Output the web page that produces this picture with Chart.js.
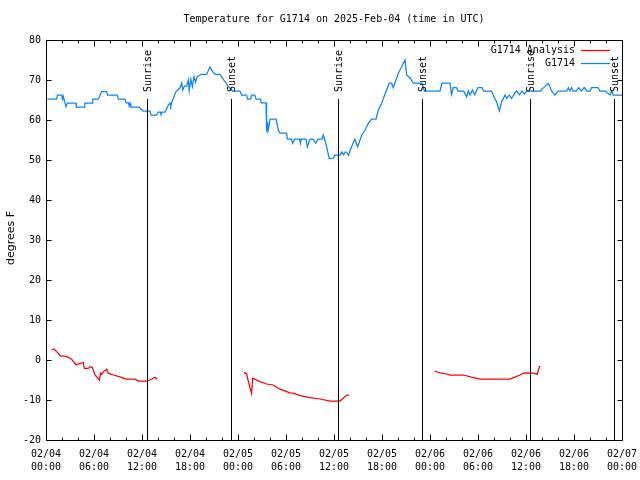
<!DOCTYPE html>
<html><head><meta charset="utf-8">
<script src="https://cdn.jsdelivr.net/npm/chart.js@4/dist/chart.umd.min.js"></script>
<style>html,body{margin:0;padding:0;background:#fff}canvas{display:block}</style>
</head><body>
<canvas id="c" width="640" height="480"></canvas>
<script>
// ---- data (hours since 02/04 00:00 UTC, degrees F) ----
const chartTitle = "Temperature for G1714 on 2025-Feb-04 (time in UTC)";
const yAxisTitle = "degrees F";
const seriesNames = ["G1714 Analysis", "G1714"];

const blueHours = [0.17,1.33,1.42,1.96,2.05,2.15,2.5,2.67,3.75,3.8,4.79,4.85,5.79,5.85,6.54,6.96,7.58,7.71,8.92,9.04,9.88,10.0,10.3,10.4,10.5,10.6,11.67,11.8,12.17,13.0,13.13,13.83,14.04,14.3,14.38,14.5,14.88,15.29,15.5,15.6,15.7,16.25,16.5,16.75,16.96,17.1,17.3,17.58,17.8,17.9,18.1,18.3,18.5,18.7,18.9,19.38,20.08,20.5,20.83,21.13,21.75,22.25,22.5,22.8,23.33,24.25,24.46,25.08,25.17,25.58,25.7,26.1,26.25,26.83,26.9,27.5,27.58,27.7,27.75,27.9,28.0,28.75,29.04,29.25,30.08,30.17,30.7,30.83,31.1,31.7,31.8,31.9,32.5,32.67,33.0,33.4,33.7,34.0,34.5,34.67,34.96,35.17,35.4,35.9,36.1,36.75,36.96,37.2,37.4,37.58,37.8,38.2,38.6,38.96,39.46,39.88,40.3,40.7,41.25,41.54,41.96,42.25,42.58,42.9,43.2,43.4,43.6,44.04,44.46,44.88,45.08,45.5,45.9,47.0,47.3,49.25,49.5,50.5,50.7,50.9,51.3,51.5,52.2,52.58,52.8,53.0,53.3,53.6,54.0,54.5,54.7,55.7,55.9,56.3,56.67,56.96,57.4,57.6,57.9,58.2,58.6,58.8,59.2,59.5,59.8,60.1,61.75,62.2,62.8,63.2,63.6,64.0,65.1,65.3,65.5,65.7,65.9,66.3,66.6,66.9,67.3,67.6,68.0,68.2,69.0,69.25,69.9,70.5,70.7,70.9,72.0];
const blueTemps = [65.2,65.2,66.2,66.2,65.2,66.0,63.3,64.2,64.2,63.2,63.2,64.2,64.2,65.2,65.2,67.1,67.1,66.2,66.2,65.2,65.2,64.3,64.3,63.5,64.2,63.2,63.2,62.8,62.25,62.25,61.2,61.2,62.0,62.0,61.3,62.0,62.0,63.7,64.2,63.5,64.3,67.1,67.5,68.1,69.2,67.5,68.5,68.5,70.0,67.3,70.2,68.3,70.8,69.5,70.8,71.4,71.4,73.3,72.1,71.4,71.4,69.9,69.3,68.3,67.25,67.25,66.25,66.25,65.2,65.2,66.2,66.2,65.2,65.2,64.3,64.3,57.1,59.5,57.3,58.8,60.2,60.2,57.5,56.7,56.7,55.2,55.2,54.2,55.2,55.2,54.2,55.2,55.2,53.3,55.2,55.2,54.2,55.2,55.2,56.25,54.2,52.5,50.4,50.4,51.25,51.25,52.0,51.3,52.0,52.0,51.2,53.3,55.2,53.3,56.2,57.5,59.2,60.2,60.2,62.5,64.2,65.8,67.5,69.2,69.2,68.1,69.2,71.7,73.3,75.0,71.25,70.5,69.2,69.2,67.25,67.25,69.2,69.2,66.4,68.1,68.1,67.25,67.25,65.8,67.25,66.25,67.5,66.3,68.1,68.1,67.25,67.25,66.25,64.6,62.25,64.6,66.25,65.4,66.25,65.4,66.7,67.25,66.3,67.25,66.5,67.25,67.25,68.1,69.2,67.25,66.25,67.25,67.25,68.1,67.25,68.1,67.25,67.25,68.1,67.25,68.1,67.25,67.25,68.1,68.1,67.25,67.25,66.25,67.25,66.25,66.25];

const redHours = [0.71,1.0,1.33,1.83,2.4,2.79,3.21,3.75,4.25,4.67,4.79,5.3,5.5,5.79,6.13,6.67,6.83,6.96,7.17,7.58,7.79,8.42,9.25,10.0,11.13,11.54,12.58,13.0,13.63,13.9,
  19.0,
  24.75,25.08,25.3,25.58,25.7,25.83,26.1,26.75,27.58,28.4,29.25,30.5,30.9,31.75,33.0,34.25,35.5,36.75,37.6,37.9,
  43.0,
  48.6,49.25,50.1,50.5,52.2,53.2,54.25,58.0,58.6,59.25,59.67,60.1,60.9,61.4,61.67,61.8];
const redTemps = [2.5,2.75,2.1,1.0,1.0,0.67,0.17,-1.25,-0.83,-0.67,-2.1,-2.1,-1.67,-1.83,-3.75,-5.0,-3.3,-3.6,-2.9,-2.3,-3.3,-3.75,-4.2,-4.8,-4.8,-5.25,-5.25,-5.0,-4.3,-4.8,
  null,
  -3.1,-3.5,-5.4,-7.5,-8.3,-4.6,-4.8,-5.4,-6.0,-6.25,-7.3,-8.2,-8.3,-8.9,-9.4,-9.75,-10.25,-10.25,-8.75,-8.75,
  null,
  -2.75,-3.2,-3.5,-3.75,-3.75,-4.3,-4.75,-4.75,-4.3,-3.75,-3.3,-3.2,-3.3,-3.6,-1.67,-1.5];

const sunEventHours = [12.65, 23.09, 36.55, 47.05, 60.5, 70.95];
const sunEventLabels = ["Sunrise","Sunset","Sunrise","Sunset","Sunrise","Sunset"];

const xTickHours = [0,6,12,18,24,30,36,42,48,54,60,66,72];
const xTickDates = ["02/04","02/04","02/04","02/04","02/05","02/05","02/05","02/05","02/06","02/06","02/06","02/06","02/07"];
const xTickTimes = ["00:00","06:00","12:00","18:00","00:00","06:00","12:00","18:00","00:00","06:00","12:00","18:00","00:00"];
const yTicks = [-20,-10,0,10,20,30,40,50,60,70,80];

const redColor = "#ff0000";
const blueColor = "#0a84ff";
const MONO = "10px 'DejaVu Sans Mono', 'Liberation Mono', monospace";

const toPoints = (hs, ts) => hs.map((h, i) => ({x: h, y: ts[i]}));

const decor = {
  id: 'decor',
  afterDatasetsDraw(chart) {
    const ctx = chart.ctx;
    const a = chart.chartArea;
    const xs = chart.scales.x, ys = chart.scales.y;
    ctx.save();
    ctx.strokeStyle = '#000';
    ctx.fillStyle = '#000';
    ctx.lineWidth = 1;
    const L = Math.round(a.left) + 0.5, R = Math.round(a.right) + 0.5;
    const T = Math.round(a.top) + 0.5, B = Math.round(a.bottom) + 0.5;

    // sunrise / sunset lines
    ctx.font = MONO;
    sunEventHours.forEach((h, i) => {
      const px = Math.round(xs.getPixelForValue(h)) + 0.5;
      ctx.beginPath();
      ctx.moveTo(px, 99);
      ctx.lineTo(px, B);
      ctx.stroke();
      ctx.save();
      ctx.translate(px + 0.5, 92);
      ctx.rotate(-Math.PI / 2);
      ctx.textAlign = 'left';
      ctx.textBaseline = 'middle';
      ctx.fillText(sunEventLabels[i], 0, 0);
      ctx.restore();
    });

    // frame
    ctx.beginPath();
    ctx.rect(L, T, R - L, B - T);
    ctx.stroke();

    // x ticks: minor every 2 h, major every 6 h
    ctx.beginPath();
    for (let h = 0; h <= 72; h += 2) {
      const px = Math.round(xs.getPixelForValue(h)) + 0.5;
      const len = (h % 6 === 0) ? 6 : 3;
      ctx.moveTo(px, B); ctx.lineTo(px, B - len);
      ctx.moveTo(px, T); ctx.lineTo(px, T + len);
    }
    // y ticks
    yTicks.forEach(v => {
      const py = Math.round(ys.getPixelForValue(v)) + 0.5;
      ctx.moveTo(L, py); ctx.lineTo(L + 5, py);
      ctx.moveTo(R, py); ctx.lineTo(R - 5, py);
    });
    ctx.stroke();

    // x tick labels
    ctx.font = MONO;
    ctx.textAlign = 'center';
    ctx.textBaseline = 'middle';
    xTickHours.forEach((h, i) => {
      const px = xs.getPixelForValue(h);
      ctx.fillText(xTickDates[i], px, 454);
      ctx.fillText(xTickTimes[i], px, 467);
    });
    // y tick labels
    ctx.textAlign = 'right';
    yTicks.forEach(v => {
      ctx.fillText(String(v), 41, ys.getPixelForValue(v));
    });

    // title
    ctx.textAlign = 'center';
    ctx.fillText(chartTitle, 334, 19);

    // y axis title
    ctx.save();
    ctx.translate(11, 238);
    ctx.rotate(-Math.PI / 2);
    ctx.font = "11px 'DejaVu Sans', sans-serif";
    ctx.textAlign = 'center';
    ctx.textBaseline = 'middle';
    ctx.fillText(yAxisTitle, 0, 0);
    ctx.restore();

    // legend
    ctx.font = MONO;
    ctx.textAlign = 'right';
    ctx.textBaseline = 'middle';
    const legendColors = [redColor, blueColor];
    seriesNames.forEach((name, i) => {
      const y = 50 + i * 13;
      ctx.fillStyle = '#000';
      ctx.fillText(name, 575, y);
      ctx.strokeStyle = legendColors[i];
      ctx.lineWidth = 1.25;
      ctx.beginPath();
      ctx.moveTo(581, Math.round(y) + 0.5);
      ctx.lineTo(610, Math.round(y) + 0.5);
      ctx.stroke();
    });
    ctx.restore();
  }
};

new Chart(document.getElementById('c'), {
  type: 'line',
  data: {
    datasets: [
      {label: seriesNames[0], data: toPoints(redHours, redTemps), borderColor: redColor, borderWidth: 1.25, pointRadius: 0, spanGaps: false, tension: 0},
      {label: seriesNames[1], data: toPoints(blueHours, blueTemps), borderColor: blueColor, borderWidth: 1.25, pointRadius: 0, tension: 0}
    ]
  },
  options: {
    responsive: false,
    animation: false,
    devicePixelRatio: 1,
    layout: {padding: {left: 46, right: 18, top: 40, bottom: 40}},
    plugins: {legend: {display: false}, title: {display: false}, tooltip: {enabled: false}},
    scales: {
      x: {type: 'linear', min: 0, max: 72, display: false},
      y: {type: 'linear', min: -20, max: 80, display: false}
    }
  },
  plugins: [decor]
});
</script>
</body></html>
